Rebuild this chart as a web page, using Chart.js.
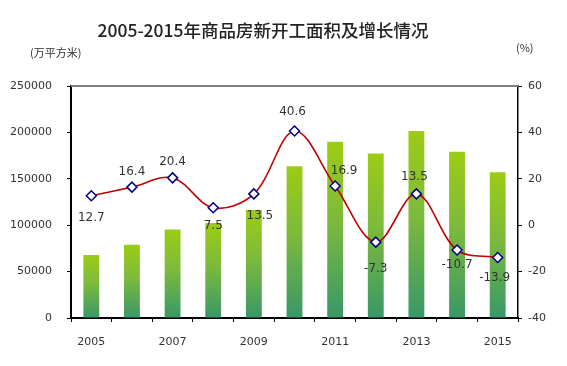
<!DOCTYPE html>
<html>
<head>
<meta charset="utf-8">
<title>2005-2015年商品房新开工面积及增长情况</title>
<script src="https://cdn.jsdelivr.net/npm/chart.js@4/dist/chart.umd.min.js"></script>
<style>
    html, body { margin: 0; padding: 0; background: #fff; }
    #chart { display: block; }
</style>
</head>
<body>
<canvas id="chart" width="567" height="366"></canvas>
<script>
/* 2005-2015 new construction area (bars) and growth rate (line) */

const years = ['2005', '2006', '2007', '2008', '2009', '2010', '2011', '2012', '2013', '2014', '2015'];
const areaValues = [68000, 79000, 95400, 102500, 116400, 163600, 190000, 177300, 201500, 179200, 157000];
const growthValues = [12.7, 16.4, 20.4, 7.5, 13.5, 40.6, 16.9, -7.3, 13.5, -10.7, -13.9];
const leftTicks = [0, 50000, 100000, 150000, 200000, 250000];
const rightTicks = [-40, -20, 0, 20, 40, 60];

// where each growth label sits relative to its marker (px)
const labelOffsets = [[0, 22], [0, -15], [0, -16], [0, 18], [6, 22], [-2, -19],
                      [9, -15], [0, 27], [-2, -17], [0, 15], [-3, 20]];

const TEXT = '#333';
const TICK_FONT = { family: "'DejaVu Sans', sans-serif", size: 11 };

function barGradient(ctx) {
    const chart = ctx.chart;
    if (!chart.chartArea || ctx.raw === undefined) return '#8cc63f';
    const y = chart.scales.y;
    const top = y.getPixelForValue(ctx.raw);
    const bottom = y.getPixelForValue(0);
    const g = chart.ctx.createLinearGradient(0, top, 0, bottom);
    g.addColorStop(0, '#9ccc14');
    g.addColorStop(0.45, '#7dba3c');
    g.addColorStop(1, '#389868');
    return g;
}

// title, unit captions, top frame line and point labels
const decorations = {
    id: 'decorations',
    afterDatasetsDraw(chart) {
        const { ctx, chartArea } = chart;
        ctx.save();

        ctx.strokeStyle = '#808080';
        ctx.lineWidth = 2;
        ctx.beginPath();
        ctx.moveTo(chartArea.left, chartArea.top);
        ctx.lineTo(chartArea.right, chartArea.top);
        ctx.stroke();

        const meta = chart.getDatasetMeta(1);
        ctx.fillStyle = TEXT;
        ctx.font = "12px 'DejaVu Sans', sans-serif";
        ctx.textAlign = 'center';
        ctx.textBaseline = 'middle';
        meta.data.forEach((pt, i) => {
            const [dx, dy] = labelOffsets[i];
            ctx.fillText(growthValues[i].toFixed(1), pt.x + dx, pt.y + dy);
        });
        ctx.restore();
    },
    afterDraw(chart) {
        const { ctx } = chart;
        ctx.save();
        ctx.fillStyle = '#222';
        ctx.textBaseline = 'middle';
        ctx.textAlign = 'center';
        ctx.font = "500 17.5px 'Noto Sans CJK SC', sans-serif";
        ctx.fillText('2005-2015年商品房新开工面积及增长情况', 263, 30);

        ctx.fillStyle = TEXT;
        ctx.font = "11px 'Noto Sans CJK SC', sans-serif";
        ctx.textAlign = 'left';
        ctx.fillText('(万平方米)', 30, 53);
        ctx.fillText('(%)', 516, 48);
        ctx.restore();
    }
};

new Chart(document.getElementById('chart'), {
    type: 'bar',
    data: {
        labels: years,
        datasets: [
            {
                type: 'bar',
                label: '新开工面积',
                data: areaValues,
                yAxisID: 'y',
                backgroundColor: barGradient,
                barPercentage: 0.39,
                categoryPercentage: 1,
                order: 2
            },
            {
                type: 'line',
                label: '增长',
                data: growthValues,
                yAxisID: 'y1',
                borderColor: '#c00000',
                borderWidth: 1.6,
                tension: 0.35,
                pointStyle: 'rectRot',
                pointRadius: 5,
                pointBackgroundColor: '#ffffff',
                pointBorderColor: '#000080',
                pointBorderWidth: 1.5,
                order: 1
            }
        ]
    },
    options: {
        responsive: false,
        animation: false,
        layout: { padding: { top: 86, left: 0, right: 0, bottom: 0 } },
        plugins: {
            legend: { display: false },
            tooltip: { enabled: false }
        },
        scales: {
            x: {
                offset: true,
                grid: { offset: true, drawOnChartArea: false, color: '#000', tickLength: 4 },
                border: { color: '#000', width: 2 },
                ticks: {
                    color: TEXT,
                    font: TICK_FONT,
                    autoSkip: false,
                    maxRotation: 0,
                    padding: 14,
                    callback: (v, i) => (i % 2 === 0 ? years[i] : '')
                },
                afterFit: s => { s.height = 48; }
            },
            y: {
                position: 'left',
                min: leftTicks[0],
                max: leftTicks[leftTicks.length - 1],
                afterBuildTicks: s => { s.ticks = leftTicks.map(v => ({ value: v })); },
                grid: { drawOnChartArea: false, color: '#000', tickLength: 4 },
                border: { color: '#000', width: 2 },
                ticks: { color: TEXT, font: TICK_FONT, padding: 15, callback: v => String(v) },
                afterFit: s => { s.width = 71; }
            },
            y1: {
                position: 'right',
                min: rightTicks[0],
                max: rightTicks[rightTicks.length - 1],
                afterBuildTicks: s => { s.ticks = rightTicks.map(v => ({ value: v })); },
                grid: { drawOnChartArea: false, color: '#000', tickLength: 4 },
                border: { color: '#000', width: 1.5 },
                ticks: { color: TEXT, font: TICK_FONT, padding: 6, callback: v => String(v) },
                afterFit: s => { s.width = 49; }
            }
        }
    },
    plugins: [decorations]
});
</script>
</body>
</html>
